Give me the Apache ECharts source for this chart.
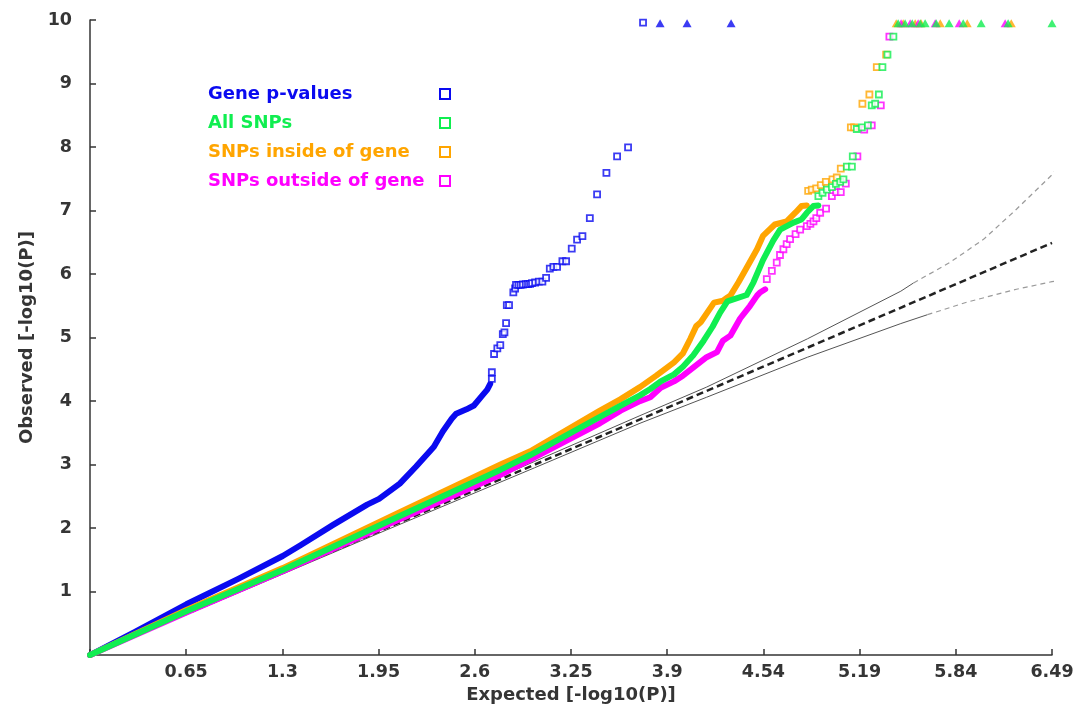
<!DOCTYPE html>
<html>
<head>
<meta charset="utf-8">
<script src="https://cdn.jsdelivr.net/npm/echarts@6/dist/echarts.min.js"></script>
<style>
  html, body { margin: 0; padding: 0; background: #fff; }
  #chart { width: 1081px; height: 709px; }
</style>
</head>
<body>
<div id="chart"></div>
<script>
// Q-Q plot of observed vs expected -log10(P)

const xTickLabels = ['', '0.65', '1.3', '1.95', '2.6', '3.25', '3.9', '4.54', '5.19', '5.84', '6.49'];
const yTickLabels = ['', '1', '2', '3', '4', '5', '6', '7', '8', '9', '10'];

const seriesNames = ['Gene p-values', 'All SNPs', 'SNPs inside of gene', 'SNPs outside of gene'];
const seriesColors = ['#0a0af0', '#10ee50', '#ffa500', '#ff00ff'];

// Gene p-values: dense run, separate points, values capped at the top
const geneDense = [[0,0],[0.3,0.36],[0.65,0.80],[1.0,1.20],[1.3,1.56],[1.42,1.73],[1.64,2.05],[1.87,2.37],[1.95,2.46],[2.09,2.70],[2.2,2.97],[2.32,3.28],[2.38,3.52],[2.44,3.72],[2.47,3.80],[2.54,3.87],[2.59,3.93],[2.64,4.07],[2.68,4.18],[2.70,4.27]];
const genePoints = [[2.711,4.349],[2.711,4.454],[2.726,4.741],[2.748,4.830],[2.768,4.882],[2.785,5.055],[2.796,5.082],[2.807,5.228],[2.812,5.51],[2.827,5.51],[2.856,5.710],[2.868,5.772],[2.874,5.83],[2.89,5.83],[2.905,5.83],[2.92,5.835],[2.94,5.84],[2.955,5.84],[2.969,5.845],[2.982,5.856],[3.003,5.867],[3.028,5.882],[3.052,5.882],[3.077,5.939],[3.102,6.086],[3.126,6.112],[3.151,6.112],[3.187,6.201],[3.212,6.201],[3.250,6.400],[3.286,6.542],[3.322,6.598],[3.372,6.881],[3.421,7.253],[3.484,7.593],[3.556,7.854],[3.630,7.995],[3.731,9.96]];
const geneCapped = [[3.846,9.95],[4.028,9.95],[4.325,9.95]];

// All SNPs
const allDense = [[0,0],[0.65,0.69],[1.3,1.34],[2.09,2.19],[2.77,2.92],[2.97,3.15],[3.44,3.75],[3.58,3.93],[3.71,4.09],[3.78,4.19],[3.85,4.31],[3.94,4.42],[4.0,4.54],[4.07,4.72],[4.14,4.95],[4.2,5.17],[4.25,5.39],[4.30,5.57],[4.34,5.60],[4.43,5.67],[4.476,5.87],[4.54,6.22],[4.61,6.53],[4.656,6.70],[4.746,6.81],[4.80,6.86],[4.836,6.965],[4.88,7.07],[4.914,7.08]];
const allPoints = [[4.914,7.226],[4.942,7.28],[4.971,7.33],[5.005,7.37],[5.032,7.42],[5.061,7.45],[5.083,7.49],[5.106,7.69],[5.140,7.69],[5.146,7.854],[5.173,8.284],[5.207,8.309],[5.248,8.341],[5.274,8.655],[5.297,8.681],[5.322,8.827],[5.346,9.257],[5.380,9.455],[5.420,9.738]];
const allCapped = [[5.452,9.95],[5.499,9.95],[5.547,9.95],[5.601,9.95],[5.634,9.95],[5.709,9.95],[5.796,9.95],[5.891,9.95],[6.012,9.95],[6.194,9.95],[6.49,9.95]];

// SNPs inside of gene
const insideDense = [[0,0],[0.65,0.71],[1.3,1.37],[2.09,2.25],[2.77,3.0],[2.97,3.21],[3.44,3.85],[3.58,4.03],[3.71,4.22],[3.82,4.40],[3.94,4.61],[4.00,4.75],[4.05,4.98],[4.09,5.18],[4.12,5.24],[4.21,5.55],[4.27,5.58],[4.30,5.63],[4.32,5.66],[4.375,5.87],[4.43,6.10],[4.50,6.39],[4.54,6.60],[4.62,6.78],[4.70,6.83],[4.76,6.97],[4.80,7.07],[4.836,7.08]];
const insidePoints = [[4.845,7.31],[4.869,7.33],[4.899,7.35],[4.93,7.40],[4.964,7.45],[5.009,7.49],[5.038,7.52],[5.065,7.66],[5.133,8.309],[5.155,8.309],[5.211,8.681],[5.258,8.827],[5.308,9.257],[5.371,9.455]];
const insideCapped = [[5.439,9.95],[5.486,9.95],[5.567,9.95],[5.607,9.95],[5.736,9.95],[5.918,9.95],[6.215,9.95]];

// SNPs outside of gene
const outsideDense = [[0,0],[0.65,0.67],[1.3,1.32],[2.09,2.14],[2.77,2.84],[2.97,3.08],[3.44,3.65],[3.58,3.85],[3.71,4.00],[3.78,4.06],[3.85,4.21],[3.94,4.31],[4.0,4.40],[4.16,4.69],[4.23,4.77],[4.27,4.95],[4.32,5.03],[4.386,5.30],[4.453,5.50],[4.50,5.66],[4.52,5.71],[4.555,5.76]];
const outsidePoints = [[4.566,5.92],[4.60,6.05],[4.633,6.18],[4.655,6.30],[4.678,6.39],[4.70,6.47],[4.723,6.55],[4.76,6.63],[4.791,6.70],[4.836,6.755],[4.86,6.79],[4.881,6.83],[4.90,6.88],[4.926,6.965],[4.966,7.03],[5.005,7.226],[5.034,7.29],[5.065,7.29],[5.099,7.425],[5.177,7.854],[5.223,8.273],[5.274,8.341],[5.335,8.655],[5.393,9.738]];
const outsideCapped = [[5.472,9.95],[5.533,9.95],[5.587,9.95],[5.702,9.95],[5.864,9.95],[6.174,9.95]];

// Null line and 95% confidence band
const nullLine = [[0,0],[6.49,6.49]];
const upperBandNear = [[0,0],[1,1.02],[2,2.03],[3,3.05],[3.71,3.77],[4.16,4.22],[4.84,4.98],[5.47,5.73],[5.556,5.86]];
const upperBandFar = [[5.556,5.86],[5.80,6.18],[6.03,6.55],[6.25,7.02],[6.48,7.54],[6.68,8.08]];
const lowerBandNear = [[0,0],[1,0.98],[2,1.97],[3,2.95],[3.71,3.65],[4.16,4.06],[4.84,4.69],[5.47,5.22],[5.65,5.36]];
const lowerBandFar = [[5.65,5.36],[5.92,5.56],[6.25,5.76],[6.49,5.88],[6.68,5.94]];

const fontFace = "'DejaVu Sans', Verdana, sans-serif";
const inkColor = '#353535';

function denseLine(name, color, data, z) {
  return {
    name: name, type: 'line', data: data, showSymbol: false, silent: true, z: z,
    lineStyle: { color: color, width: 6, cap: 'round', join: 'round' },
    itemStyle: { color: color }
  };
}
function pointSet(name, color, data, z) {
  return {
    name: name, type: 'scatter', data: data, symbol: 'rect', symbolSize: 6, z: z,
    itemStyle: { color: '#ffffff', borderColor: color, borderWidth: 1.8 }
  };
}
function cappedSet(name, color, data, z) {
  return {
    name: name, type: 'scatter', data: data, symbol: 'triangle', symbolSize: [9, 8], z: z,
    clip: false,
    itemStyle: { color: color }
  };
}
function bandLine(data, color, width, dash) {
  return {
    type: 'line', data: data, showSymbol: false, silent: true, clip: false, z: 1,
    lineStyle: { color: color, width: width, type: dash }
  };
}

const chart = echarts.init(document.getElementById('chart'), null, { renderer: 'canvas' });

chart.setOption({
  backgroundColor: '#ffffff',
  animation: false,
  grid: { left: 90, right: 29, top: 20, bottom: 52, containLabel: false },
  legend: {
    orient: 'vertical',
    left: 203, top: 79,
    align: 'right',
    icon: 'rect',
    itemWidth: 10, itemHeight: 10,
    itemGap: 9,
    selectedMode: false,
    formatter: name => '{t|' + name + '}',
    textStyle: {
      fontFamily: fontFace, fontWeight: 'bold', fontSize: 18, lineHeight: 20,
      rich: { t: { width: 227, align: 'left', fontFamily: fontFace, fontWeight: 'bold', fontSize: 18 } }
    },
    data: seriesNames.map((n, i) => ({
      name: n,
      textStyle: { color: seriesColors[i] },
      itemStyle: { color: '#ffffff', borderColor: seriesColors[i], borderWidth: 2 }
    }))
  },
  xAxis: {
    type: 'value', min: 0, max: 6.49, interval: 0.649,
    name: 'Expected [-log10(P)]', nameLocation: 'middle', nameGap: 28,
    nameTextStyle: { color: inkColor, fontFamily: fontFace, fontWeight: 'bold', fontSize: 18 },
    axisLine: { show: true, onZero: false, lineStyle: { color: inkColor, width: 1.5 } },
    axisTick: { show: true, inside: true, length: 6, lineStyle: { color: inkColor, width: 1.5 } },
    axisLabel: {
      margin: 8, color: inkColor, fontFamily: fontFace, fontWeight: 'bold', fontSize: 17.5,
      showMinLabel: true, showMaxLabel: true,
      formatter: v => xTickLabels[Math.round(v / 0.649)] || ''
    },
    splitLine: { show: false }
  },
  yAxis: {
    type: 'value', min: 0, max: 10, interval: 1,
    name: 'Observed [-log10(P)]', nameLocation: 'middle', nameGap: 52, nameRotate: 90,
    nameTextStyle: { color: inkColor, fontFamily: fontFace, fontWeight: 'bold', fontSize: 18 },
    axisLine: { show: true, onZero: false, lineStyle: { color: inkColor, width: 1.5 } },
    axisTick: { show: true, inside: true, length: 6, lineStyle: { color: inkColor, width: 1.5 } },
    axisLabel: {
      margin: 18, color: inkColor, fontFamily: fontFace, fontWeight: 'bold', fontSize: 17.5,
      formatter: v => yTickLabels[Math.round(v)] || ''
    },
    splitLine: { show: false }
  },
  series: [
    bandLine(upperBandNear, '#555555', 1, 'solid'),
    bandLine(lowerBandNear, '#555555', 1, 'solid'),
    bandLine(upperBandFar, '#9a9a9a', 1.2, [5, 4]),
    bandLine(lowerBandFar, '#9a9a9a', 1.2, [5, 4]),
    {
      type: 'line', data: nullLine, showSymbol: false, silent: true, z: 2,
      lineStyle: { color: '#222222', width: 2.5, type: [7, 4] }
    },
    denseLine(seriesNames[0], seriesColors[0], geneDense, 3),
    pointSet(seriesNames[0], seriesColors[0], genePoints, 3),
    cappedSet(seriesNames[0], seriesColors[0], geneCapped, 3),
    denseLine(seriesNames[2], seriesColors[2], insideDense, 4),
    pointSet(seriesNames[2], seriesColors[2], insidePoints, 4),
    cappedSet(seriesNames[2], seriesColors[2], insideCapped, 4),
    denseLine(seriesNames[3], seriesColors[3], outsideDense, 5),
    pointSet(seriesNames[3], seriesColors[3], outsidePoints, 5),
    cappedSet(seriesNames[3], seriesColors[3], outsideCapped, 5),
    denseLine(seriesNames[1], seriesColors[1], allDense, 6),
    pointSet(seriesNames[1], seriesColors[1], allPoints, 6),
    cappedSet(seriesNames[1], seriesColors[1], allCapped, 6)
  ]
});
</script>
</body>
</html>
